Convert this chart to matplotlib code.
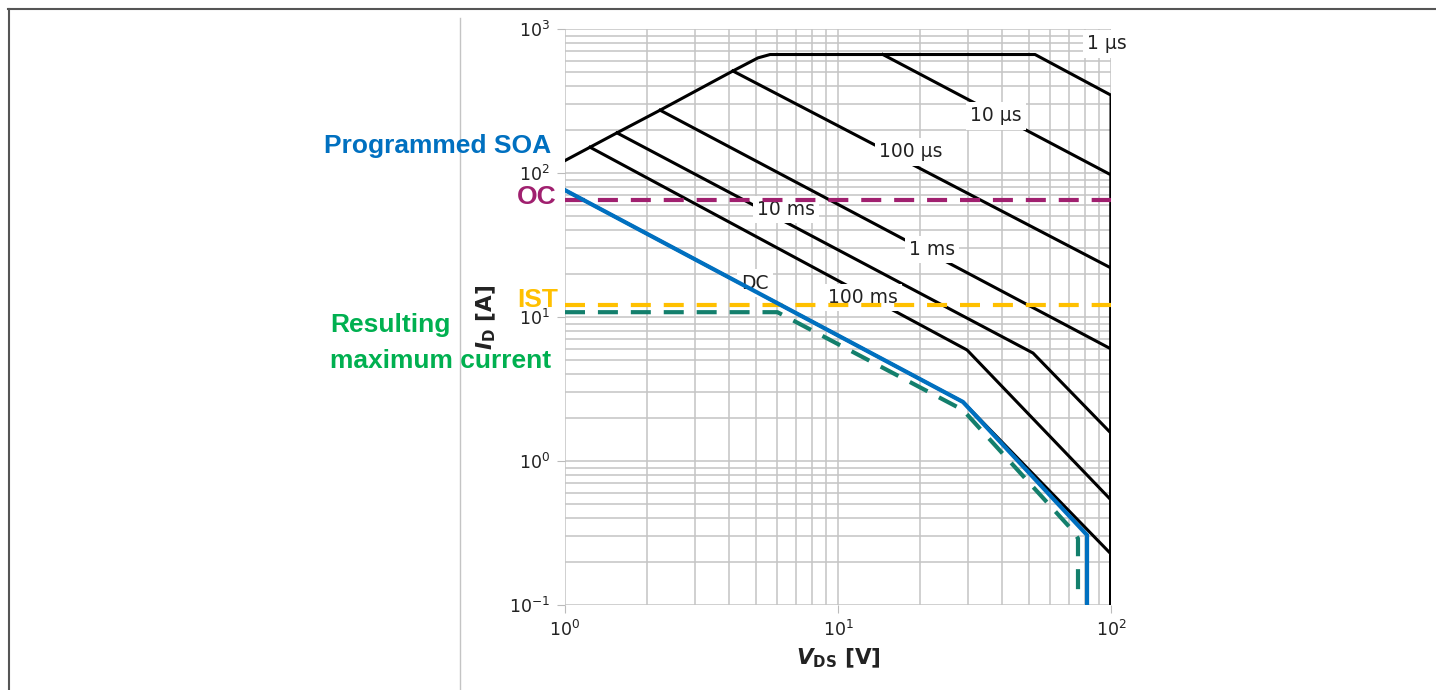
import matplotlib

matplotlib.use("Agg")
import matplotlib.pyplot as plt
from matplotlib.lines import Line2D

# SOA curves (V_DS in V, I_D in A)
env_v = [1, 1.235, 1.55, 2.23, 4.12, 5.09, 5.64, 52.7, 100, 100]
env_i = [122, 151, 190, 273, 511, 630, 665, 665, 347, 0.1]
us10_v = [14.6, 100, 100]
us10_i = [665, 97, 0.1]
us100_v = [4.12, 100, 100]
us100_i = [511, 21.9, 0.1]
ms1_v = [2.23, 100, 100]
ms1_i = [273, 6.0, 0.1]
ms10_v = [1.55, 51.8, 100, 100]
ms10_i = [190, 5.62, 1.56, 0.1]
ms100_v = [1.235, 29.7, 100, 100]
ms100_i = [151, 5.9, 0.536, 0.1]
dc_v = [1, 28.7, 100, 100]
dc_i = [76, 2.57, 0.226, 0.1]

# programmed SOA and resulting current
soa_v = [1, 28.7, 81.7, 81.7]
soa_i = [76, 2.57, 0.306, 0.1]
res_v = [1, 6.0, 28.7, 72.6, 75.7, 75.7]
res_i = [10.8, 10.8, 2.26, 0.327, 0.29, 0.12]
oc_level = 65
ist_level = 12.1

curve_labels = ["1 µs", "10 µs", "100 µs", "10 ms", "1 ms", "100 ms", "DC"]
label_v = [96.5, 37.9, 18.5, 6.45, 22.1, 12.35, 4.97]
label_i = [788, 249, 140, 56, 29.6, 13.6, 17.2]

blue = "#0070C0"
green_txt = "#00B050"
green_line = "#137F6C"
purple = "#A0206F"
amber = "#FFC000"

fig = plt.figure(figsize=(14.36, 6.9), dpi=100)
ax = fig.add_axes([565 / 1436, 85 / 690, 546 / 1436, 576 / 690])
ax.set_xscale("log")
ax.set_yscale("log")
ax.set_xlim(1, 100)
ax.set_ylim(0.1, 1000)
ax.grid(which="both", color="#c4c4c4", lw=1.1)
ax.set_axisbelow(True)
for s in ax.spines.values():
    s.set_visible(False)
ax.tick_params(which="major", length=6, color="#bbbbbb", labelsize=12.5, pad=5,
               labelcolor="#222222")
ax.tick_params(which="minor", length=0)

for v, i in [(env_v, env_i), (us10_v, us10_i), (us100_v, us100_i), (ms1_v, ms1_i),
             (ms10_v, ms10_i), (ms100_v, ms100_i), (dc_v, dc_i)]:
    ax.plot(v, i, color="black", lw=2.2, zorder=2, solid_joinstyle="round")

for t, x, y in zip(curve_labels, label_v, label_i):
    ax.text(x, y, t, fontsize=13.5, color="#222222", ha="center", va="center",
            zorder=3, bbox=dict(fc="white", ec="none", pad=3))

ax.axhline(oc_level, color=purple, lw=3, dashes=(4.8, 3.1), zorder=4)
ax.axhline(ist_level, color=amber, lw=3, dashes=(4.8, 3.1), zorder=4)
ax.plot(res_v, res_i, color=green_line, lw=3, dashes=(4.8, 3.1), zorder=5)
ax.plot(soa_v, soa_i, color=blue, lw=3, zorder=6)

ax.set_xlabel(r"$\mathbfit{V}_{\mathbf{DS}}$ [V]", fontsize=15.5, fontweight="bold",
              color="#222222")
ax.set_ylabel(r"$\mathbfit{I}_{\mathbf{D}}$ [A]", fontsize=15.5, fontweight="bold",
              color="#222222")
ax.yaxis.set_label_coords(-0.123, 0.5)
ax.xaxis.set_label_coords(0.5, -0.072)

# annotations on the left
tf = dict(family="Liberation Sans", fontweight="bold", fontsize=19)
fig.text(551 / 1436, 1 - 146 / 690, "Programmed SOA", color=blue, ha="right",
         va="center", **tf)
fig.text(556 / 1436, 1 - 197 / 690, "OC", color=purple, ha="right", va="center", **tf)
fig.text(558 / 1436, 1 - 300 / 690, "IST", color=amber, ha="right", va="center", **tf)
fig.text(330 / 1436, 1 - 325 / 690, "Resulting", color=green_txt, ha="left",
         va="center", **tf)
fig.text(330 / 1436, 1 - 361 / 690, "maximum current", color=green_txt, ha="left",
         va="center", **tf)

# frame and separator
fig.add_artist(Line2D([8 / 1436, 1], [1 - 9 / 690] * 2, color="#555555", lw=1.5))
fig.add_artist(Line2D([9 / 1436] * 2, [0, 1 - 9 / 690], color="#555555", lw=1.5))
fig.add_artist(Line2D([460 / 1436] * 2, [0, 1 - 18 / 690], color="#c4c4c4", lw=1.0))

fig.savefig("out.png", dpi=100)
